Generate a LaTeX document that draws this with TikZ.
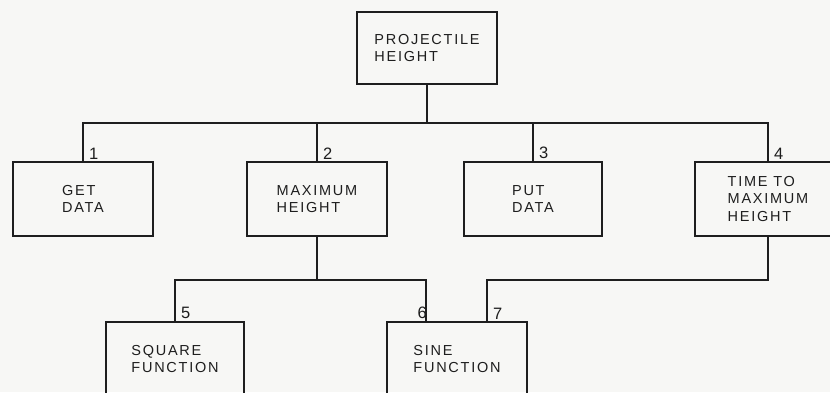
\documentclass[tikz,border=0pt]{standalone}
\usepackage{fontspec}
\usepackage{tikz}
\usetikzlibrary{calc, positioning}
\newfontfamily\kastenfont[LetterSpace=12]{Liberation Sans}
\newfontfamily\nummerfont{Liberation Sans}
\definecolor{tinte}{HTML}{1E1E1E}
\definecolor{papier}{HTML}{F7F7F5}

\begin{document}
\begin{tikzpicture}[
        x=1pt, y=-1pt,
        every node/.style={font=\kastenfont\fontsize{14.5}{17.5}\selectfont, text=tinte},
        kasten/.style={draw=tinte, line width=1.6pt, align=left,
                       minimum height=74pt, inner sep=0pt},
        nummer/.style={above right, inner sep=1pt, xshift=5pt, yshift=1pt,
                       font=\nummerfont\fontsize{16.5}{18}\selectfont},
        linie/.style={draw=tinte, line width=1.6pt},
      ]
      \useasboundingbox (0,0) rectangle (830,392);
      \clip (0,0) rectangle (830,392);
      \fill[papier] (0,0) rectangle (830,392);

      % Wurzel
      \node[kasten, minimum width=140pt, minimum height=72pt] (projhoehe) at (427,48)
        {PROJECTILE\\HEIGHT};

      % erste Ebene
      \node[kasten, minimum width=140pt] (holen)   at (83,199)  {GET\\DATA};
      \node[kasten, minimum width=140pt] (maxhoehe) at (317,199) {MAXIMUM\\HEIGHT};
      \node[kasten, minimum width=138pt] (ausgabe) at (533,199) {PUT\\DATA};
      \node[kasten, minimum width=146pt] (zeit)    at (768,199) {TIME TO\\MAXIMUM\\HEIGHT};

      % zweite Ebene (unten abgeschnitten)
      \node[kasten, minimum width=138pt] (quadrat) at (175,359) {SQUARE\\FUNCTION};
      \node[kasten, minimum width=140pt] (sinus)   at (457,359) {SINE\\FUNCTION};

      % Verbindungen oben
      \path (projhoehe.south) ++(0,38) coordinate (schiene);
      \draw[linie] (projhoehe.south) -- (schiene);
      \draw[linie] (holen.north) |- (schiene) -| (zeit.north);
      \draw[linie] (maxhoehe.north) -- (maxhoehe.north |- schiene);
      \draw[linie] (ausgabe.north) -- (ausgabe.north |- schiene);

      % Verbindungen unten
      \path (maxhoehe.south) ++(0,43) coordinate (schiene2);
      \coordinate (sinlinks)  at ($(sinus.north)+(-31,0)$);
      \coordinate (sinrechts) at ($(sinus.north)+(30,0)$);
      \draw[linie] (maxhoehe.south) -- (schiene2);
      \draw[linie] (quadrat.north) |- (schiene2) -| (sinlinks);
      \draw[linie] (zeit.south) |- (sinrechts |- schiene2) -- (sinrechts);

      % Nummern
      \node[nummer] (n1) at (holen.north)    {1};
      \node[nummer] (n2) at (maxhoehe.north) {2};
      \node[nummer] (n3) at (ausgabe.north)  {3};
      \node[nummer] (n4) at (zeit.north)     {4};
      \node[nummer] (n5) at (quadrat.north)  {5};
      \node[nummer, above left, xshift=-3pt] (n6) at (sinlinks) {6};
      \node[nummer] (n7) at (sinrechts)      {7};
    \end{tikzpicture}
\end{document}
